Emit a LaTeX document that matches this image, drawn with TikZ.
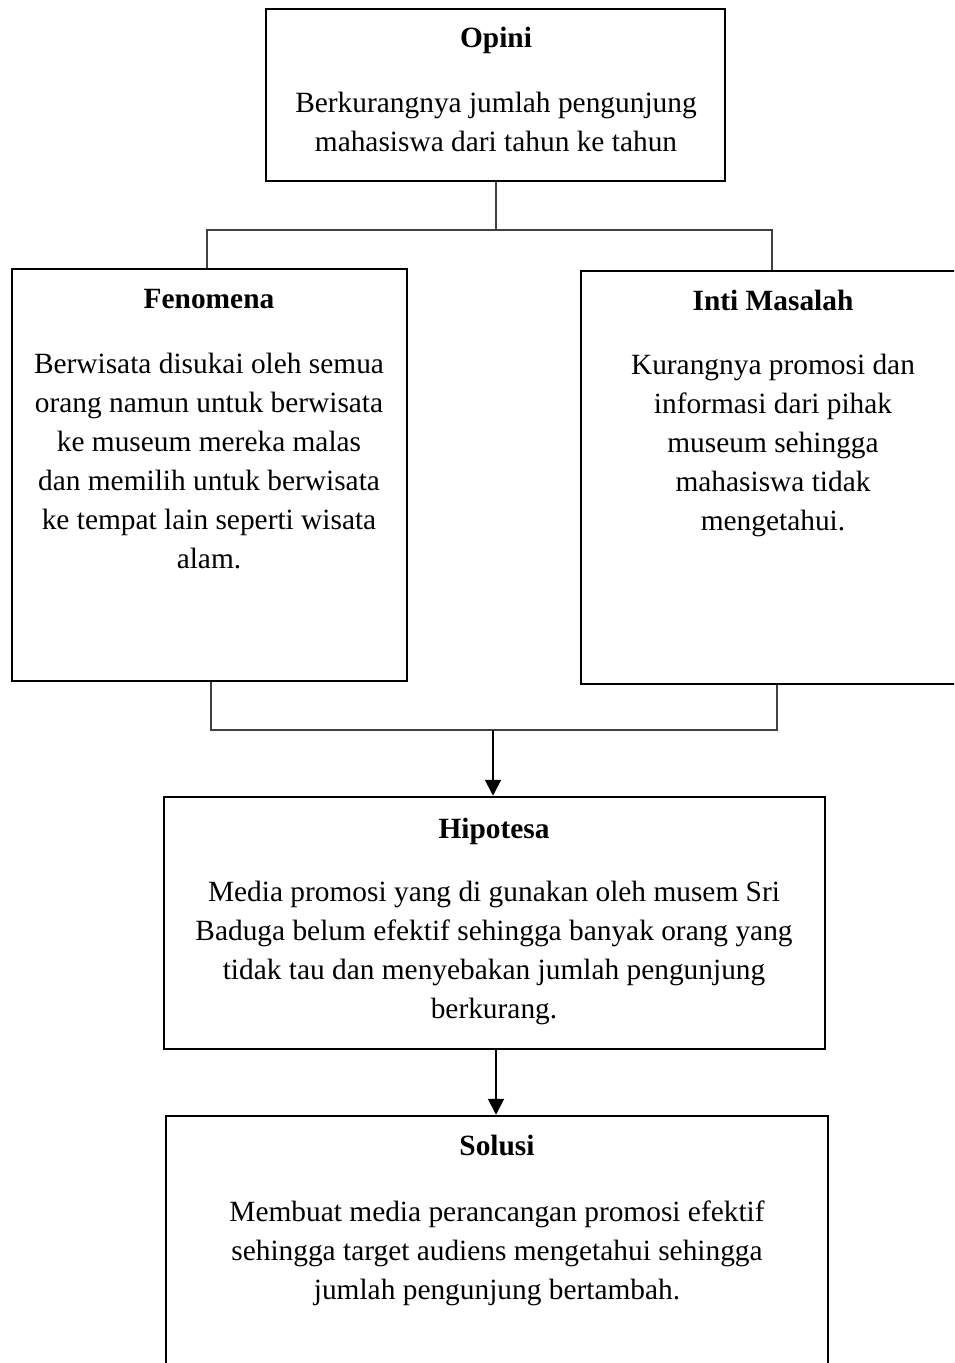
\documentclass[tikz,border=0pt]{standalone}
\usepackage{fontspec}
\setmainfont{Liberation Serif}
\usetikzlibrary{arrows.meta}
\begin{document}
\begin{tikzpicture}[x=0.4pt,y=-0.4pt,
  box/.style={draw, line width=1pt, inner sep=0pt, rectangle},
  ttl/.style={anchor=base, inner sep=0pt, font=\fontsize{11.75}{14}\selectfont\bfseries},
  txt/.style={anchor=base, inner sep=0pt, font=\fontsize{11.75}{14}\selectfont},
  conn/.style={draw=black!75, line width=0.45pt},
  arr/.style={draw, line width=0.8pt, -{Triangle[length=6.4pt,width=6.4pt]}}]
\useasboundingbox (0,0) rectangle (954,1363);
\clip (0,0) rectangle (954,1363);
\fill[white] (0,0) rectangle (954,1363);

% boxes
\node[box, minimum width=183.6pt, minimum height=68.8pt] (opini) at (495.5,95) {};
\node[box, minimum width=158pt, minimum height=164.8pt] (fen) at (209.5,475) {};
\node[box, minimum width=153.6pt, minimum height=165.2pt] (inti) at (773,477.5) {};
\node[box, minimum width=264.4pt, minimum height=100.8pt] (hip) at (494.5,923) {};
\node[box, minimum width=264.8pt, minimum height=105.6pt] (sol) at (497,1248) {};

% Opini
\node[ttl] (opini-t) at (496,47.5) {Opini};
\node[txt] (opini-1) at (496,113) {Berkurangnya jumlah pengunjung};
\node[txt] (opini-2) at (496,152) {mahasiswa dari tahun ke tahun};

% Fenomena
\node[ttl] (fen-t) at (209,309) {Fenomena};
\foreach \t [count=\i] in {Berwisata disukai oleh semua, orang namun untuk berwisata, ke museum mereka malas, dan memilih untuk berwisata, ke tempat lain seperti wisata, alam.}
  \node[txt] (fen-\i) at (209,335+39*\i) {\t};

% Inti Masalah
\node[ttl] (inti-t) at (773,311) {Inti Masalah};
\foreach \t [count=\i] in {Kurangnya promosi dan, informasi dari pihak, museum sehingga, mahasiswa tidak, mengetahui.}
  \node[txt] (inti-\i) at (773,336+39*\i) {\t};

% Hipotesa
\node[ttl] (hip-t) at (494,838) {Hipotesa};
\foreach \t [count=\i] in {Media promosi yang di gunakan oleh musem Sri, Baduga belum efektif sehingga banyak orang yang, tidak tau dan menyebakan jumlah pengunjung, berkurang.}
  \node[txt] (hip-\i) at (494,862+39*\i) {\t};

% Solusi
\node[ttl] (sol-t) at (497,1155) {Solusi};
\foreach \t [count=\i] in {Membuat media perancangan promosi efektif, sehingga target audiens mengetahui sehingga, jumlah pengunjung bertambah.}
  \node[txt] (sol-\i) at (497,1182+39*\i) {\t};

% connectors
\coordinate (tj) at (496,230);
\coordinate (tl) at (207,230);
\coordinate (tr) at (772,230);
\coordinate (bj) at (493,730);
\coordinate (bl) at (211,730);
\coordinate (br) at (777,730);
\coordinate (aj) at (496,0);
\draw[conn] (opini.south -| tj) -- (tj);
\draw[conn] (fen.north -| tl) -- (tl) -- (tr) -- (inti.north -| tr);
\draw[conn] (fen.south -| bl) -- (bl) -- (br) -- (inti.south -| br);
\draw[arr] (bj) -- (hip.north -| bj);
\draw[arr] (hip.south -| aj) -- (sol.north -| aj);
\end{tikzpicture}
\end{document}
